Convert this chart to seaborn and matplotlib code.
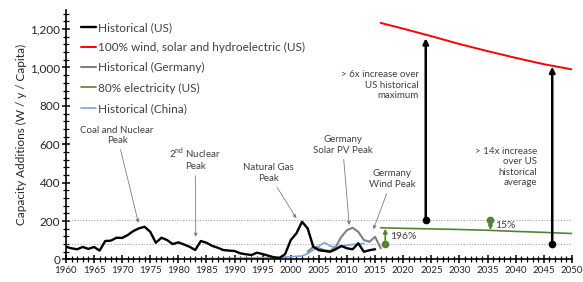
import matplotlib
matplotlib.use("Agg")
import matplotlib.pyplot as plt
import matplotlib.ticker as mticker
import pandas as pd
import seaborn as sns

# --- data ---
us_years = list(range(1960, 2016))
us_values = [66, 58, 53, 65, 55, 65, 46, 96, 98, 113,
             112, 127, 148, 162, 170, 144, 87, 113, 101, 80,
             89, 78, 66, 49, 96, 87, 71, 61, 49, 46,
             44, 32, 27, 23, 35, 28, 20, 11, 8, 28,
             101, 136, 196, 162, 66, 48, 44, 40, 53, 70,
             58, 53, 84, 40, 48, 53]

germany_years = list(range(2003, 2017))
germany_values = [40, 66, 58, 48, 44, 66, 118, 153, 165, 144, 101, 92, 118, 58]

china_years = [1981, 1985, 1990, 1995, 1998, 2000, 2002, 2003, 2004, 2005, 2006,
               2007, 2008, 2009, 2010, 2011, 2012, 2013]
china_values = [3, 4, 6, 9, 11, 14, 18, 30, 50, 70, 88, 70, 62, 70, 74, 78, 80, 84]

wsh_years = [2016, 2020, 2025, 2030, 2035, 2040, 2045, 2050]
wsh_values = [1232, 1202, 1163, 1122, 1085, 1050, 1017, 990]

elec_years = [2016, 2020, 2025, 2030, 2035, 2040, 2045, 2050]
elec_values = [165, 162, 159, 156, 152, 146, 141, 135]

us_max_ref = 205
us_avg_ref = 80

gap_years = [2024, 2046.5]
gap_base = [us_max_ref, us_avg_ref]
gap_top = [1152, 1004]

pct_years = [2016.8, 2035.5]
pct_base = [us_avg_ref, us_max_ref]
pct_top = [160, 153]
pct_labels = ["196%", "15%"]

peaks = [
    ("Coal and Nuclear\nPeak", 1972.9, 191, 1969.1, 647),
    ("2$^{\\rm nd}$ Nuclear\nPeak", 1983.1, 118, 1983.0, 527),
    ("Natural Gas\nPeak", 2001.0, 214, 1996.0, 450),
    ("Germany\nSolar PV Peak", 2010.4, 179, 2009.2, 596),
    ("Germany\nWind Peak", 2014.7, 157, 2018.0, 418),
]

sns.set_style("ticks")
plt.rcParams["font.family"] = ["Lato", "DejaVu Sans"]
plt.rcParams["mathtext.fontset"] = "custom"
plt.rcParams["mathtext.rm"] = "Lato"

fig = plt.figure(figsize=(5.83, 2.82), dpi=100)
ax = fig.add_axes([0.113, 0.080, 0.868, 0.885])

ref_color = "#8EA9DB"
green = "#548235"
note_color = "#404040"
ax.axhline(us_max_ref, color=ref_color, lw=0.8, ls=(0, (1, 1.5)), zorder=1)
ax.axhline(us_avg_ref, color=ref_color, lw=0.8, ls=(0, (1, 1.5)), zorder=1)

us = pd.DataFrame({"year": us_years, "value": us_values})
wsh = pd.DataFrame({"year": wsh_years, "value": wsh_values})
ger = pd.DataFrame({"year": germany_years, "value": germany_values})
elec = pd.DataFrame({"year": elec_years, "value": elec_values})
china = pd.DataFrame({"year": china_years, "value": china_values})

sns.lineplot(data=us, x="year", y="value", color="black", lw=1.7, ax=ax, label="Historical (US)", zorder=4)
sns.lineplot(data=wsh, x="year", y="value", color="#FF0000", lw=1.4, ax=ax,
             label="100% wind, solar and hydroelectric (US)", zorder=3)
sns.lineplot(data=ger, x="year", y="value", color="#808080", lw=1.5, ax=ax, label="Historical (Germany)", zorder=3)
sns.lineplot(data=elec, x="year", y="value", color=green, lw=1.2, ax=ax, label="80% electricity (US)", zorder=3)
sns.lineplot(data=china, x="year", y="value", color="#7EA3DC", lw=1.2, ax=ax, label="Historical (China)", zorder=2)

# big gap arrows
for x, y0, y1 in zip(gap_years, gap_base, gap_top):
    ax.annotate("", xy=(x, y1), xytext=(x, y0),
                arrowprops=dict(arrowstyle="-|>", lw=1.8, color="black", mutation_scale=8,
                                shrinkA=0, shrinkB=0), zorder=5)
    ax.plot([x], [y0], "o", color="black", ms=4.5, zorder=6)

# small percent arrows
for x, y0, y1, lab in zip(pct_years, pct_base, pct_top, pct_labels):
    ax.annotate("", xy=(x, y1), xytext=(x, y0),
                arrowprops=dict(arrowstyle="-|>", lw=1.2, color=green, mutation_scale=6,
                                shrinkA=0, shrinkB=0), zorder=5)
    ax.plot([x], [y0], "o", color=green, ms=4.5, zorder=6)
    ax.text(x + 0.9, (y0 + y1) / 2, lab, fontsize=7.5, color=note_color, va="center", ha="left")

for text, xa, ya, xt, yt in peaks:
    ax.annotate(text, xy=(xa, ya), xytext=(xt, yt), ha="center", va="center",
                fontsize=7, color=note_color, linespacing=1.2,
                arrowprops=dict(arrowstyle="-|>", lw=0.6, color="#7F7F7F", mutation_scale=5,
                                shrinkA=1, shrinkB=0))

ax.text(2022.8, 908, "> 6x increase over\nUS historical\nmaximum", ha="right", va="center",
        fontsize=7, color=note_color, linespacing=1.2)
ax.text(2043.8, 481, "> 14x increase\nover US\nhistorical\naverage", ha="right", va="center",
        fontsize=7, color=note_color, linespacing=1.2)

ax.set_xlim(1960, 2050)
ax.set_ylim(0, 1300)
ax.xaxis.set_major_locator(mticker.MultipleLocator(5))
ax.xaxis.set_minor_locator(mticker.MultipleLocator(1))
ax.yaxis.set_major_locator(mticker.MultipleLocator(200))
ax.yaxis.set_minor_locator(mticker.MultipleLocator(40))
ax.yaxis.set_major_formatter(mticker.StrMethodFormatter("{x:,.0f}"))
ax.tick_params(axis="both", which="major", direction="inout", length=6, width=1.1, color="black")
ax.tick_params(axis="both", which="minor", direction="inout", length=4, width=0.9, color="black")
ax.tick_params(axis="x", labelsize=7, pad=2, labelcolor="#262626")
ax.tick_params(axis="y", labelsize=8.5, pad=1, labelcolor="#262626")
for side in ("top", "right"):
    ax.spines[side].set_visible(False)
for side in ("left", "bottom"):
    ax.spines[side].set_linewidth(1.2)
    ax.spines[side].set_color("black")

ax.set_xlabel("")
ax.set_ylabel("Capacity Additions (W / y / Capita)", fontsize=8.5, color="#262626", labelpad=2)

leg = ax.legend(loc="upper left", bbox_to_anchor=(0.03, 0.952), frameon=False, fontsize=8.5,
                handlelength=1.3, handletextpad=0.1, labelspacing=0.78, borderpad=0, borderaxespad=0)
for t in leg.get_texts():
    t.set_color(note_color)

fig.savefig("out.png", dpi=100)
